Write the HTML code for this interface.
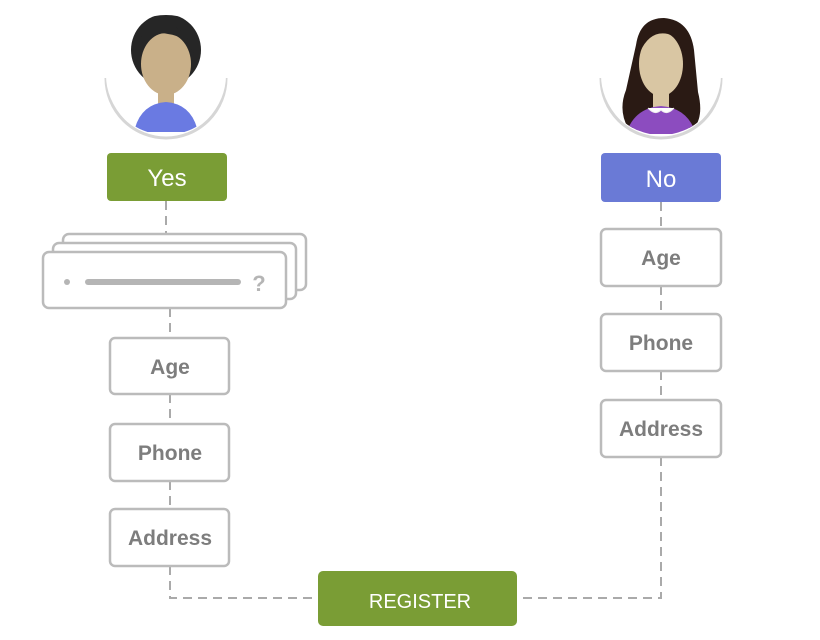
<!DOCTYPE html>
<html><head><meta charset="utf-8"><style>
html,body{margin:0;padding:0;background:#fff;}
svg{display:block;}
text{font-family:"Liberation Sans",sans-serif;}
</style></head><body>
<svg width="820" height="640" viewBox="0 0 820 640" xmlns="http://www.w3.org/2000/svg">
<defs>
<clipPath id="c1"><circle cx="166" cy="75" r="60"/></clipPath>
<clipPath id="c2"><circle cx="661" cy="75" r="60"/></clipPath>
</defs>
<!-- man avatar -->
<path d="M106 78 A60 60 0 0 0 226 78" fill="none" stroke="#d6d6d6" stroke-width="3"/>
<g clip-path="url(#c1)">
<rect x="106" y="15" width="120" height="120" fill="#fff"/>
<rect x="158" y="90" width="16" height="18" fill="#c9b089"/>
<path d="M134 132 Q140 104 166 102 Q192 104 198 132 Z" fill="#6a7ae2"/>
<ellipse cx="166" cy="50" rx="35" ry="36" fill="#262626"/>
<ellipse cx="166" cy="64" rx="25" ry="31" fill="#c9b089"/>
<path d="M138 48 Q150 30 168 34 Q186 36 194 54 Q190 32 166 22 Q140 26 138 48Z" fill="#262626"/>
</g>
<!-- woman avatar -->
<path d="M601 78 A60 60 0 0 0 721 78" fill="none" stroke="#d6d6d6" stroke-width="3"/>
<g clip-path="url(#c2)">
<rect x="601" y="15" width="120" height="120" fill="#fff"/>
<path d="M636 45 Q640 18 664 18 Q690 20 694 50 L698 92 Q704 116 694 128 L628 128 Q618 110 626 90 Z" fill="#2a1a14"/>
<rect x="653" y="88" width="16" height="20" fill="#d9c6a3"/>
<path d="M626 134 Q634 108 661 106 Q688 108 696 134 Z" fill="#8c4cbf"/>
<ellipse cx="661" cy="64" rx="22" ry="32" fill="#d9c6a3"/>
<path d="M640 52 Q650 30 668 34 Q680 38 686 52 Q684 26 662 24 Q642 26 640 52Z" fill="#2a1a14"/>
<path d="M648 108 Q655 116 661 110 Q667 116 674 108" fill="#fff" stroke="#eee"/>
</g>
<!-- dashed connectors -->
<g stroke="#aaa" stroke-width="2" stroke-dasharray="9,6" fill="none">
<line x1="166" y1="201" x2="166" y2="234"/>
<line x1="170" y1="308" x2="170" y2="338"/>
<line x1="170" y1="394" x2="170" y2="424"/>
<line x1="170" y1="481" x2="170" y2="509"/>
<polyline points="170,566 170,598 318,598"/>
<line x1="661" y1="202" x2="661" y2="229"/>
<line x1="661" y1="286" x2="661" y2="314"/>
<line x1="661" y1="371" x2="661" y2="400"/>
<polyline points="661,457 661,598 517,598"/>
</g>
<!-- Yes / No -->
<rect x="107" y="153" width="120" height="48" rx="4" fill="#7a9d35"/>
<text x="167" y="186" font-size="24" fill="#fff" text-anchor="middle">Yes</text>
<rect x="601" y="153" width="120" height="49" rx="4" fill="#6a7ad6"/>
<text x="661" y="187" font-size="24" fill="#fff" text-anchor="middle">No</text>
<!-- stacked cards -->
<g stroke="#bbb" stroke-width="2.5" fill="#fff">
<rect x="63" y="234" width="243" height="56" rx="6"/>
<rect x="53" y="243" width="243" height="56" rx="6"/>
<rect x="43" y="252" width="243" height="56" rx="6"/>
</g>
<circle cx="67" cy="282" r="3" fill="#b5b5b5"/>
<line x1="88" y1="282" x2="238" y2="282" stroke="#b5b5b5" stroke-width="6" stroke-linecap="round"/>
<text x="259" y="291" font-size="22" font-weight="bold" fill="#b5b5b5" text-anchor="middle">?</text>
<!-- field boxes -->
<g stroke="#bbb" stroke-width="2.5" fill="#fff">
<rect x="110" y="338" width="119" height="56" rx="5"/>
<rect x="110" y="424" width="119" height="57" rx="5"/>
<rect x="110" y="509" width="119" height="57" rx="5"/>
<rect x="601" y="229" width="120" height="57" rx="5"/>
<rect x="601" y="314" width="120" height="57" rx="5"/>
<rect x="601" y="400" width="120" height="57" rx="5"/>
</g>
<g font-size="21" font-weight="bold" fill="#7d7d7d" text-anchor="middle">
<text x="170" y="374">Age</text>
<text x="170" y="460">Phone</text>
<text x="170" y="545">Address</text>
<text x="661" y="265">Age</text>
<text x="661" y="350">Phone</text>
<text x="661" y="436">Address</text>
</g>
<!-- register -->
<rect x="318" y="571" width="199" height="55" rx="5" fill="#7a9d35"/>
<text x="420" y="608" font-size="20" fill="#fff" text-anchor="middle">REGISTER</text>
</svg>
</body></html>
